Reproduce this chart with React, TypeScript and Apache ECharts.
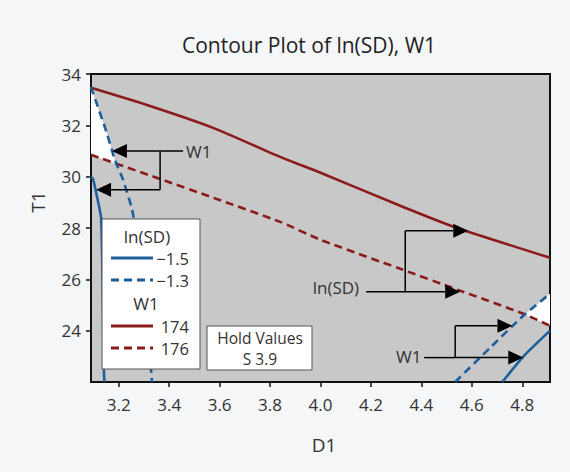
import React, { useEffect, useRef } from 'react';
import * as echarts from 'echarts';

const FONT = '"Open Sans", "Noto Sans", sans-serif';
const TEXT = '#333333';
const BLUE = '#1d5e9e';
const RED = '#8b1a1a';

// axis ranges and ticks
const D_MIN = 3.09;
const D_MAX = 4.91;
const T_MIN = 22;
const T_MAX = 34;
const xTicks = [3.2, 3.4, 3.6, 3.8, 4.0, 4.2, 4.4, 4.6, 4.8];
const yTicks = [24, 26, 28, 30, 32, 34];

// contour lines [D1, T1]
const w1_174 = [[3.09, 33.46], [3.312, 32.79], [3.574, 31.9], [3.84, 30.77], [4.0, 30.15], [4.328, 28.82], [4.542, 28.0], [4.91, 26.84]];
const w1_176 = [[3.09, 30.85], [3.364, 29.91], [3.574, 29.18], [3.84, 28.24], [4.0, 27.54], [4.316, 26.41], [4.542, 25.6], [4.804, 24.66], [4.91, 24.19]];
const lnsd_m15_left = [[3.09, 30.0], [3.099, 29.88], [3.119, 28.98], [3.13, 28.4], [3.135, 26.5], [3.138, 24.5], [3.14, 22.8], [3.143, 22.0]];
const lnsd_m15_right = [[4.721, 22.0], [4.804, 22.99], [4.91, 24.0]];
const lnsd_m13_left = [[3.09, 33.5], [3.098, 33.26], [3.146, 31.9], [3.185, 30.65], [3.217, 29.88], [3.253, 28.71], [3.277, 27.35], [3.3, 25.6], [3.316, 24.04], [3.328, 22.48], [3.332, 22.0]];
const lnsd_m13_right = [[4.534, 22.0], [4.673, 23.34], [4.804, 24.58], [4.91, 25.44]];

// feasible (white) regions
const feasibleLeft = [[3.09, 33.5], [3.098, 33.26], [3.146, 31.9], [3.185, 30.65], [3.192, 30.48], [3.09, 30.85]];
const feasibleRight = [[4.81, 24.63], [4.91, 25.44], [4.91, 24.19]];
const feasibleRegions = [feasibleLeft, feasibleRight];

// hold values
const holdNames = ['S'];
const holdValues = [3.9];

// annotations (data coordinates)
const annotations = [
  { text: 'W1', textAt: [3.467, 31.0], align: 'left', from: 3.455, elbow: 3.364, lineY: 31.0, arrows: [[31.0, 3.173], [29.49, 3.11]] },
  { text: 'ln(SD)', textAt: [4.153, 25.67], align: 'right', from: 4.181, elbow: 4.336, lineY: 25.52, arrows: [[25.52, 4.554], [27.89, 4.586]] },
  { text: 'W1', textAt: [4.4, 22.99], align: 'right', from: 4.411, elbow: 4.534, lineY: 22.95, arrows: [[22.95, 4.804], [24.19, 4.761]] },
];

const DASH = [8, 5];

function lineSeries(name: string, data: number[][], color: string, dashed: boolean) {
  return {
    type: 'line', name, data, showSymbol: false, smooth: 0.2, clip: true, z: 3,
    lineStyle: { color, width: 2.6, type: dashed ? DASH : 'solid' },
  };
}

export default function App() {
  const ref = useRef<HTMLDivElement>(null);
  useEffect(() => {
    const chart = echarts.init(ref.current!, null, { renderer: 'svg' });
    chart.setOption({
      animation: false,
      backgroundColor: '#f5f6f8',
      grid: { left: 91, right: 20, top: 74, bottom: 90, show: true, backgroundColor: '#c8c8c8', borderColor: '#111', borderWidth: 2 },
      xAxis: {
        type: 'value', min: D_MIN, max: D_MAX,
        axisLine: { show: true, onZero: false, lineStyle: { color: '#111', width: 2 } },
        axisTick: { show: true, customValues: xTicks, length: 5, lineStyle: { color: '#111', width: 1.5 } },
        axisLabel: { customValues: xTicks, formatter: (v: number) => v.toFixed(1), margin: 14, fontSize: 17, fontFamily: FONT, color: TEXT },
        splitLine: { show: false },
      },
      yAxis: {
        type: 'value', min: T_MIN, max: T_MAX,
        axisLine: { show: true, onZero: false, lineStyle: { color: '#111', width: 2 } },
        axisTick: { show: true, customValues: yTicks, length: 5, lineStyle: { color: '#111', width: 1.5 } },
        axisLabel: { customValues: yTicks, formatter: (v: number) => String(v), margin: 10, fontSize: 17, fontFamily: FONT, color: TEXT },
        splitLine: { show: false },
      },
      series: [
        {
          type: 'custom',
          name: 'feasible',
          data: feasibleRegions.map((r) => r[r.length - 1]),
          clip: true,
          silent: true,
          z: 1,
          renderItem: (params: any, api: any) => ({
            type: 'polygon',
            shape: { points: feasibleRegions[params.dataIndex].map((p) => api.coord(p)) },
            style: { fill: '#ffffff', stroke: 'none' },
          }),
        },
        lineSeries('W1 174', w1_174, RED, false),
        lineSeries('W1 176', w1_176, RED, true),
        lineSeries('ln(SD) -1.5', lnsd_m15_left, BLUE, false),
        lineSeries('ln(SD) -1.5', lnsd_m15_right, BLUE, false),
        lineSeries('ln(SD) -1.3', lnsd_m13_left, BLUE, true),
        lineSeries('ln(SD) -1.3', lnsd_m13_right, BLUE, true),
      ],
    });

    const toPx = (p: number[]) => chart.convertToPixel({ gridIndex: 0 }, p) as number[];
    const g: any[] = [];
    const Z = 50;
    const txt = (x: number, y: number, text: string, size: number, align = 'center', color = TEXT) => ({
      type: 'text', x, y, z: Z + 2,
      style: { text, fill: color, font: `${size}px ${FONT}`, textAlign: align, textVerticalAlign: 'middle' },
    });
    const seg = (x1: number, y1: number, x2: number, y2: number, stroke: string, w: number, dash: any = null) => ({
      type: 'line', z: Z + 1, shape: { x1, y1, x2, y2 }, style: { stroke, lineWidth: w, lineDash: dash },
    });

    // title and axis names
    g.push(txt(309, 45, 'Contour Plot of ln(SD), W1', 21, 'center', '#222'));
    g.push(txt(324, 445, 'D1', 19));
    g.push({
      type: 'text', x: 38, y: 202, rotation: Math.PI / 2, z: Z,
      style: { text: 'T1', fill: TEXT, font: `19px ${FONT}`, textAlign: 'center', textVerticalAlign: 'middle' },
    });

    // annotations
    annotations.forEach((a) => {
      const tp = toPx(a.textAt);
      g.push(txt(tp[0], tp[1], a.text, 17, a.align));
      const s = toPx([a.from, a.lineY]);
      const e = toPx([a.elbow, a.lineY]);
      g.push(seg(s[0], s[1], e[0], e[1], '#000', 1.5));
      const ys = a.arrows.map((ar) => toPx([a.elbow, ar[0]])[1]);
      g.push(seg(e[0], Math.min(...ys, e[1]), e[0], Math.max(...ys, e[1]), '#000', 1.5));
      a.arrows.forEach((ar) => {
        const tip = toPx([ar[1], ar[0]]);
        const sign = tip[0] > e[0] ? 1 : -1;
        const bx = tip[0] - sign * 15;
        g.push(seg(e[0], tip[1], bx, tip[1], '#000', 1.5));
        g.push({ type: 'polygon', z: Z + 1, shape: { points: [[tip[0], tip[1]], [bx, tip[1] - 7], [bx, tip[1] + 7]] }, style: { fill: '#000' } });
      });
    });

    // legend box
    g.push({ type: 'rect', z: Z, shape: { x: 102, y: 219, width: 98, height: 150 }, style: { fill: '#fff', stroke: '#555', lineWidth: 1 } });
    g.push(txt(147, 236, 'ln(SD)', 17));
    const legendRows = [
      { y: 258, color: BLUE, dash: null, label: '\u22121.5' },
      { y: 280, color: BLUE, dash: DASH, label: '\u22121.3' },
      { y: 326, color: RED, dash: null, label: '174' },
      { y: 348, color: RED, dash: DASH, label: '176' },
    ];
    legendRows.forEach((r) => {
      g.push(seg(111, r.y, 153, r.y, r.color, 3, r.dash));
      g.push(txt(189, r.y, r.label, 16.5, 'right'));
    });
    g.push(txt(146, 303, 'W1', 17));

    // hold values box
    g.push({ type: 'rect', z: Z, shape: { x: 207, y: 326, width: 105, height: 44 }, style: { fill: '#fff', stroke: '#555', lineWidth: 1 } });
    g.push(txt(260, 338, 'Hold Values', 15.5));
    holdNames.forEach((n, i) => g.push(txt(260, 359 + i * 20, `${n} ${holdValues[i]}`, 15.5)));

    chart.setOption({ graphic: g });
    return () => chart.dispose();
  }, []);
  return <div ref={ref} style={{ position: 'fixed', left: 0, top: 0, width: 570, height: 472 }} />;
}
